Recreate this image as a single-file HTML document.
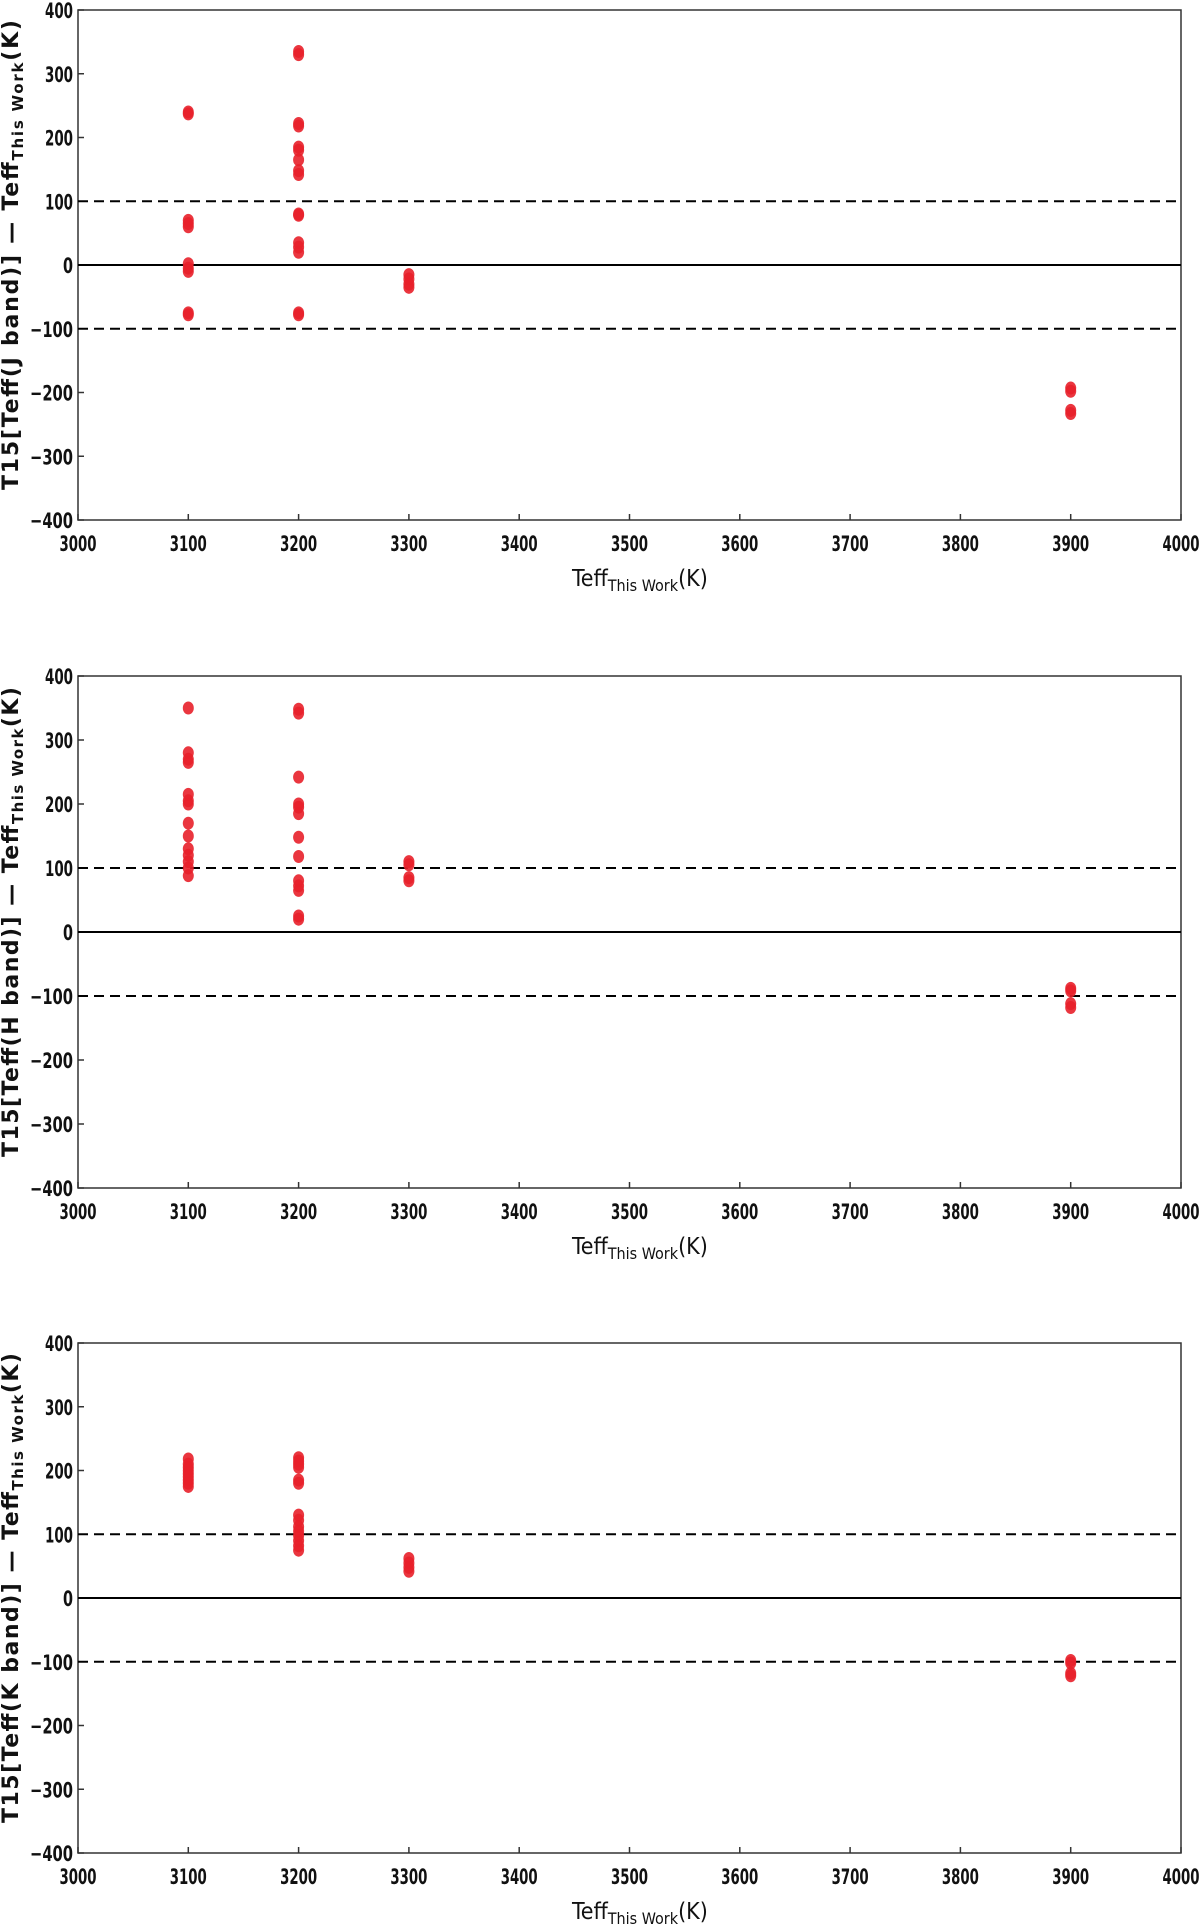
<!DOCTYPE html>
<html><head><meta charset="utf-8">
<style>
html,body{margin:0;padding:0;background:#fff;}
svg{display:block;}
.tick{font-family:"DejaVu Sans Condensed","Liberation Sans Narrow","Liberation Sans",sans-serif;font-weight:bold;font-size:21px;fill:#111;}
.ylab{font-family:"DejaVu Sans","Liberation Sans",sans-serif;font-weight:bold;font-size:22px;fill:#111;}
.xlab{font-family:"DejaVu Sans Condensed","Liberation Sans Narrow","Liberation Sans",sans-serif;font-size:23px;fill:#111;}
</style></head>
<body>
<svg id="chart" width="1200" height="1927" viewBox="0 0 1200 1927" xmlns="http://www.w3.org/2000/svg"></svg>
<script>
const xTicks=[3000,3100,3200,3300,3400,3500,3600,3700,3800,3900,4000];
const yTicks=[400,300,200,100,0,-100,-200,-300,-400];
const bands=["J","H","K"];
const jX=[3100,3100,3100,3100,3100,3100,3100,3100,3100,3100,3200,3200,3200,3200,3200,3200,3200,3200,3200,3200,3200,3200,3200,3200,3200,3200,3300,3300,3300,3300,3900,3900,3900,3900];
const jY=[240,237,70,65,60,2,-5,-10,-75,-78,335,330,222,218,185,180,165,148,142,80,78,35,28,20,-75,-78,-15,-22,-30,-35,-193,-198,-228,-233];
const hX=[3100,3100,3100,3100,3100,3100,3100,3100,3100,3100,3100,3100,3100,3100,3200,3200,3200,3200,3200,3200,3200,3200,3200,3200,3200,3200,3200,3300,3300,3300,3300,3900,3900,3900,3900];
const hY=[350,280,270,265,215,205,200,170,150,130,120,110,100,88,348,342,242,200,195,185,148,118,80,72,65,25,20,110,105,85,80,-88,-92,-112,-118];
const kX=[3100,3100,3100,3100,3100,3100,3100,3100,3100,3200,3200,3200,3200,3200,3200,3200,3200,3200,3200,3200,3200,3200,3200,3300,3300,3300,3300,3900,3900,3900,3900];
const kY=[218,210,205,200,195,190,185,180,175,220,215,210,205,185,180,130,122,112,105,98,90,82,75,62,55,48,42,-98,-102,-118,-122];
const seriesX=[jX,hX,kX];
const seriesY=[jY,hY,kY];

const NS="http://www.w3.org/2000/svg";
const svg=document.getElementById('chart');
const X0=78,X1=1181;
const panels=[{top:10,bot:520},{top:676,bot:1188},{top:1343,bot:1853}];
function mk(tag,attrs,parent){const e=document.createElementNS(NS,tag);for(const k in attrs)e.setAttribute(k,attrs[k]);(parent||svg).appendChild(e);return e;}
panels.forEach((p,i)=>{
  const g=mk('g',{});
  
  
  const sx=v=>X0+(v-3000)/1000*(X1-X0);
  const sy=v=>p.top+(400-v)/800*(p.bot-p.top);
  const frame=mk('rect',{x:X0,y:p.top,width:X1-X0,height:p.bot-p.top,fill:'none',stroke:'#333','stroke-width':1.5},g);
  
  
  xTicks.forEach(t=>{
    mk('line',{x1:sx(t),x2:sx(t),y1:p.bot,y2:p.bot-6,stroke:'#333','stroke-width':1.5},g);
    const tx=mk('text',{x:sx(t),y:p.bot+31,'text-anchor':'middle',class:'tick',textLength:37,lengthAdjust:'spacingAndGlyphs'},g);
    tx.textContent=t;
    
    
  });
  yTicks.forEach(t=>{
    mk('line',{x1:X0,x2:X0+6,y1:sy(t),y2:sy(t),stroke:'#333','stroke-width':1.5},g);
    const s=(t<0?'\u2212'+(-t):String(t));
    const len=s.length===1?10:(t<0?43:28);
    const tx=mk('text',{x:X0-5,y:sy(t)+8,'text-anchor':'end',class:'tick',textLength:len,lengthAdjust:'spacingAndGlyphs'},g);
    tx.textContent=s;
    
    
  });
  const z=mk('line',{x1:X0,x2:X1,y1:sy(0),y2:sy(0),stroke:'#000','stroke-width':2},g);
  
  
  [100,-100].forEach(v=>{
    const d=mk('line',{x1:X0,x2:X1,y1:sy(v),y2:sy(v),stroke:'#000','stroke-width':2,'stroke-dasharray':'10,6'},g);
    
    
  });
  seriesX[i].forEach((xv,j)=>{
    const c=mk('ellipse',{cx:sx(xv),cy:sy(seriesY[i][j]),rx:5.5,ry:6.5,fill:'#e8202a','fill-opacity':0.9},g);
    
    
  });
  const xl=mk('text',{x:572,y:p.bot+66,class:'xlab'},g);
  xl.innerHTML='Teff<tspan font-size="16" dy="5">This Work</tspan><tspan dy="-5">(K)</tspan>';
  
  
  const cy=(p.top+p.bot)/2-10;
  const yl=mk('text',{x:0,y:0,'text-anchor':'middle',class:'ylab',transform:'translate(18,'+cy+') rotate(-90)'},g);
  yl.innerHTML='T15[Teff('+bands[i]+'  band)] \u2014 Teff<tspan font-size="15" dy="5">This Work</tspan><tspan dy="-5">(K)</tspan>';
  yl.setAttribute('textLength','470');
  yl.setAttribute('lengthAdjust','spacing');
  
  
});
</script>
</body></html>
